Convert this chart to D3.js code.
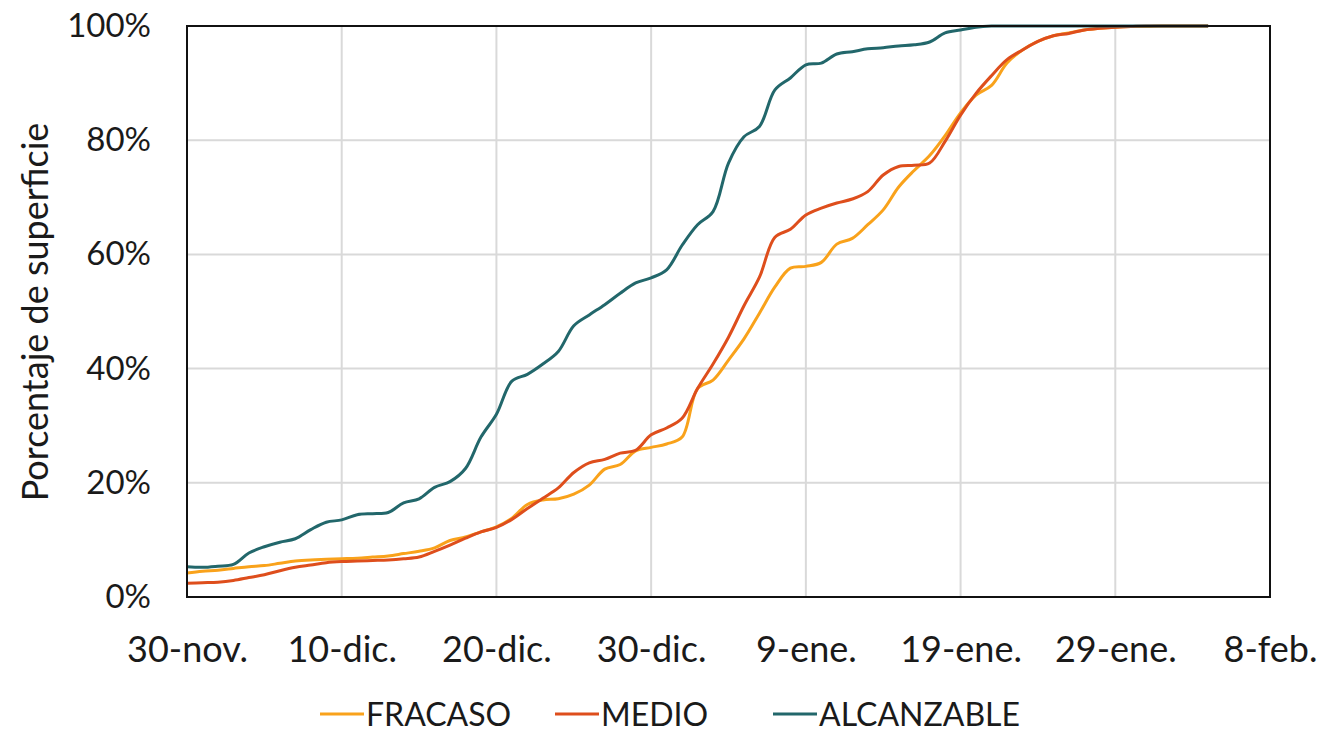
<!DOCTYPE html>
<html><head><meta charset="utf-8">
<script src="https://cdn.jsdelivr.net/npm/d3@7"></script>
<style>body{margin:0;background:#fff}svg{display:block}text{font-family:Lato,"Open Sans",sans-serif;fill:#1a1a1a}</style>
</head><body><svg id="c" width="1326" height="732"></svg>
<script>
const tickDays = [0,10,20,30,40,50,60,70];
const tickLabels = ["30-nov.","10-dic.","20-dic.","30-dic.","9-ene.","19-ene.","29-ene.","8-feb."];
const yTicks = [0,20,40,60,80,100];
const seriesNames = ["FRACASO","MEDIO","ALCANZABLE"];
const seriesColors = ["#F9A21B","#DE4E1C","#22676B"];
const fracaso = [4.2,4.5,4.7,5.0,5.3,5.5,5.9,6.3,6.5,6.6,6.7,6.8,7.0,7.2,7.6,8.0,8.6,9.9,10.5,11.4,12.3,13.8,16.2,17.0,17.2,18.0,19.6,22.4,23.2,25.6,26.2,26.8,28.0,36.5,38.0,41.5,45.2,49.7,54.3,57.6,57.9,58.6,61.8,62.8,65.2,67.8,71.8,74.7,77.3,80.8,84.8,87.9,89.6,93.5,95.8,97.3,98.3,98.8,99.3,99.6,99.8,99.9,99.9,100,100,100,100];
const medio = [2.4,2.5,2.6,2.9,3.4,3.9,4.6,5.2,5.6,6.0,6.2,6.3,6.4,6.5,6.7,7.0,8.0,9.1,10.3,11.4,12.2,13.6,15.5,17.3,19.1,21.8,23.5,24.1,25.2,25.7,28.4,29.6,31.3,36.5,40.8,45.5,51.0,56.0,63.0,64.4,66.9,68.1,69.0,69.7,71.0,73.9,75.4,75.6,76.0,79.8,84.4,88.2,91.3,94.1,95.8,97.3,98.3,98.7,99.3,99.6,99.8,99.9,100,100,100,100,100];
const alcanzable = [5.3,5.2,5.4,5.7,7.7,8.8,9.6,10.2,11.8,13.1,13.5,14.4,14.6,14.8,16.5,17.2,19.2,20.2,22.5,28.0,32.0,37.8,39.0,40.8,43.0,47.5,49.4,51.2,53.2,55.0,55.9,57.3,61.6,65.2,67.5,76.0,80.6,82.4,88.8,90.9,93.2,93.5,95.1,95.5,96.0,96.2,96.5,96.7,97.2,98.8,99.3,99.8,100,100,100,100,100,100,100,100,100,100,100,100,100,100,100];
const allSeries = [fracaso, medio, alcanzable];

const svg = d3.select("#c");
const L=187,R=1270,T=26,B=597;
const x = d3.scaleLinear().domain([0,70]).range([L,R]);
const y = d3.scaleLinear().domain([0,100]).range([B,T]);

// grid
svg.append("g").selectAll("line").data(yTicks).join("line")
  .attr("x1",L).attr("x2",R).attr("y1",d=>y(d)).attr("y2",d=>y(d))
  .attr("stroke","#d9d9d9").attr("stroke-width",2);
svg.append("g").selectAll("line").data(tickDays).join("line")
  .attr("x1",d=>x(d)).attr("x2",d=>x(d)).attr("y1",T).attr("y2",B)
  .attr("stroke","#d9d9d9").attr("stroke-width",2);

// lines
const line = d3.line().x((d,i)=>x(i)).y(d=>y(d)).curve(d3.curveCatmullRom.alpha(0.5));
allSeries.forEach((s,k)=>{
  svg.append("path").datum(s).attr("d",line).attr("fill","none")
    .attr("stroke",seriesColors[k]).attr("stroke-width",3).attr("stroke-linejoin","round");
});

// frame
svg.append("rect").attr("x",L).attr("y",T).attr("width",R-L).attr("height",B-T)
  .attr("fill","none").attr("stroke","#111").attr("stroke-width",2);

// y axis labels
const yAxis = d3.axisLeft(y).tickValues(yTicks).tickFormat(d=>d+"%").tickSize(0).tickPadding(36);
const ya = svg.append("g").attr("transform",`translate(${L},0)`).call(yAxis);
ya.select(".domain").remove();
ya.selectAll("text").style("font-size","33px").attr("fill","#1a1a1a").style("font-family","Lato");

// x axis labels
const xAxis = d3.axisBottom(x).tickValues(tickDays).tickFormat((d,i)=>tickLabels[i]).tickSize(0).tickPadding(0);
const xa = svg.append("g").attr("transform",`translate(0,${B})`).call(xAxis);
xa.select(".domain").remove();
xa.selectAll(".tick text").attr("dy",null).attr("y",65)
  .style("font-size","36px").attr("fill","#1a1a1a").style("font-family","Lato");

// y title
svg.append("text").attr("transform","translate(48,312) rotate(-90)")
  .attr("text-anchor","middle").style("font-size","36px").text("Porcentaje de superficie");

// legend
const legX = [320,555,773];
const lg = svg.append("g");
seriesNames.forEach((n,k)=>{
  lg.append("line").attr("x1",legX[k]).attr("x2",legX[k]+44).attr("y1",714).attr("y2",714)
    .attr("stroke",seriesColors[k]).attr("stroke-width",3);
  lg.append("text").attr("transform",`translate(${legX[k]+46},726)`)
    .style("font-size","32px").text(n);
});
</script></body></html>
